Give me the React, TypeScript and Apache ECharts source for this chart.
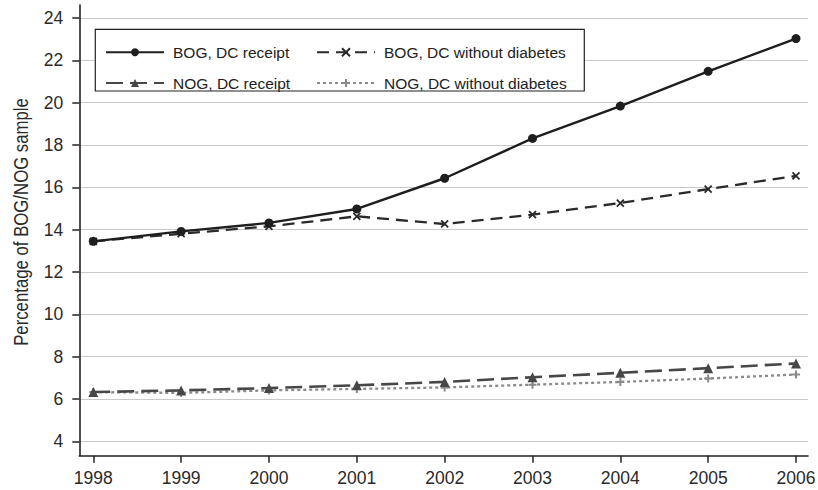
import React, { useEffect, useRef } from "react";
import * as echarts from "echarts";

const years = [1998, 1999, 2000, 2001, 2002, 2003, 2004, 2005, 2006];
const bogReceipt = [13.45, 13.92, 14.32, 14.98, 16.43, 18.31, 19.84, 21.48, 23.03];
const bogWithout = [13.45, 13.81, 14.16, 14.63, 14.27, 14.71, 15.26, 15.92, 16.54];
const nogReceipt = [6.33, 6.41, 6.52, 6.65, 6.81, 7.03, 7.24, 7.46, 7.68];
const nogWithout = [6.33, 6.29, 6.41, 6.48, 6.55, 6.68, 6.81, 6.97, 7.16];
const yTicks = { min: 4, max: 24, interval: 2 };

const FONT = "'Liberation Sans', Arial, Helvetica, sans-serif";

const pairs = (vals: number[]) => years.map((y, i) => [y, vals[i]]);

export default function App() {
  const ref = useRef<HTMLDivElement>(null);
  useEffect(() => {
    if (!ref.current) return;
    const chart = echarts.init(ref.current, undefined, { renderer: "svg" });
    const hidden = { show: false };
    const legendCommon = {
      orient: "vertical",
      top: 44.3,
      padding: 0,
      itemWidth: 58,
      itemHeight: 10,
      itemGap: 14.7,
      z: 6,
      textStyle: { fontSize: 15.5, fontFamily: FONT, color: "#222", padding: [0, 0, 0, 4] },
    };
    chart.setOption({
      animation: false,
      backgroundColor: "#ffffff",
      grid: [
        { left: 93.3, right: 22, top: 18, bottom: 48.6, outerBoundsMode: "none" },
        { left: 79.3, right: 10, top: 18, bottom: 48.6, outerBoundsMode: "none" },
        { left: 79.3, right: 10, top: 5, bottom: 34.3, outerBoundsMode: "none" },
      ],
      xAxis: [
        {
          type: "value",
          gridIndex: 0,
          min: years[0],
          max: years[years.length - 1],
          interval: 1,
          offset: 14.3,
          axisLine: { show: false },
          axisTick: { show: true, length: 7, lineStyle: { color: "#222", width: 1.5 } },
          axisLabel: {
            margin: 13,
            fontSize: 17.5,
            fontFamily: FONT,
            color: "#2a2a2a",
            formatter: (v: number) => String(v),
          },
          splitLine: { show: false },
        },
        { type: "value", gridIndex: 1, min: 0, max: 1, show: false },
        {
          type: "value",
          gridIndex: 2,
          min: 0,
          max: 1,
          axisLine: { show: true, onZero: false, lineStyle: { color: "#222", width: 1.6 } },
          axisTick: hidden,
          axisLabel: hidden,
          splitLine: hidden,
        },
      ],
      yAxis: [
        {
          type: "value",
          gridIndex: 0,
          min: yTicks.min,
          max: yTicks.max,
          interval: yTicks.interval,
          offset: 14,
          axisLine: { show: false },
          axisTick: { show: true, length: 7, lineStyle: { color: "#222", width: 1.5 } },
          axisLabel: { margin: 16, fontSize: 17.5, fontFamily: FONT, color: "#2a2a2a" },
          splitLine: { show: false },
        },
        {
          type: "value",
          gridIndex: 1,
          min: yTicks.min,
          max: yTicks.max,
          interval: yTicks.interval,
          axisLine: hidden,
          axisTick: hidden,
          axisLabel: hidden,
          splitLine: { show: true, lineStyle: { color: "#c9c9c9", width: 1 } },
        },
        {
          type: "value",
          gridIndex: 2,
          min: 0,
          max: 1,
          axisLine: { show: true, onZero: false, lineStyle: { color: "#222", width: 1.6 } },
          axisTick: hidden,
          axisLabel: hidden,
          splitLine: hidden,
        },
      ],
      legend: [
        { ...legendCommon, left: 105, data: ["BOG, DC receipt", "NOG, DC receipt"] },
        { ...legendCommon, left: 316, data: ["BOG, DC without diabetes", "NOG, DC without diabetes"] },
      ],
      graphic: [
        {
          type: "rect",
          z: 3,
          shape: { x: 95.3, y: 29.3, width: 489, height: 61.7 },
          style: { fill: "#ffffff", stroke: "#222", lineWidth: 1.2 },
        },
        {
          type: "text",
          x: 22,
          y: 222,
          rotation: Math.PI / 2,
          scaleX: 0.86,
          style: {
            text: "Percentage of BOG/NOG sample",
            fontSize: 19.5,
            fontFamily: FONT,
            fill: "#2a2a2a",
            align: "center",
            verticalAlign: "middle",
          },
        },
      ],
      series: [
        {
          name: "BOG, DC without diabetes",
          type: "line",
          xAxisIndex: 0,
          yAxisIndex: 0,
          data: pairs(bogWithout),
          symbol: "path://M0,0L10,10M10,0L0,10M5,3L5,7",
          symbolSize: 7,
          itemStyle: { color: "#2a2a2a", borderColor: "#2a2a2a", borderWidth: 1.8 },
          lineStyle: { color: "#2a2a2a", width: 2.3, type: [12, 7] },
          z: 3,
        },
        {
          name: "NOG, DC without diabetes",
          type: "line",
          xAxisIndex: 0,
          yAxisIndex: 0,
          data: pairs(nogWithout),
          symbol: "path://M5,0L5,10M0,5L10,5",
          symbolSize: 8,
          itemStyle: { color: "#8a8a8a", borderColor: "#8a8a8a", borderWidth: 2 },
          lineStyle: { color: "#8a8a8a", width: 2.3, type: [3, 3] },
          z: 3,
        },
        {
          name: "NOG, DC receipt",
          type: "line",
          xAxisIndex: 0,
          yAxisIndex: 0,
          data: pairs(nogReceipt),
          symbol: "triangle",
          symbolSize: 10,
          itemStyle: { color: "#474747" },
          lineStyle: { color: "#474747", width: 2.6, type: [17, 7] },
          z: 4,
        },
        {
          name: "BOG, DC receipt",
          type: "line",
          xAxisIndex: 0,
          yAxisIndex: 0,
          data: pairs(bogReceipt),
          symbol: "circle",
          symbolSize: 9,
          itemStyle: { color: "#1e1e1e" },
          lineStyle: { color: "#1e1e1e", width: 2.4 },
          z: 4,
        },
      ],
    });
    return () => chart.dispose();
  }, []);
  return (
    <div
      ref={ref}
      style={{ position: "fixed", left: 0, top: 0, width: 818, height: 490, background: "#fff" }}
    />
  );
}
